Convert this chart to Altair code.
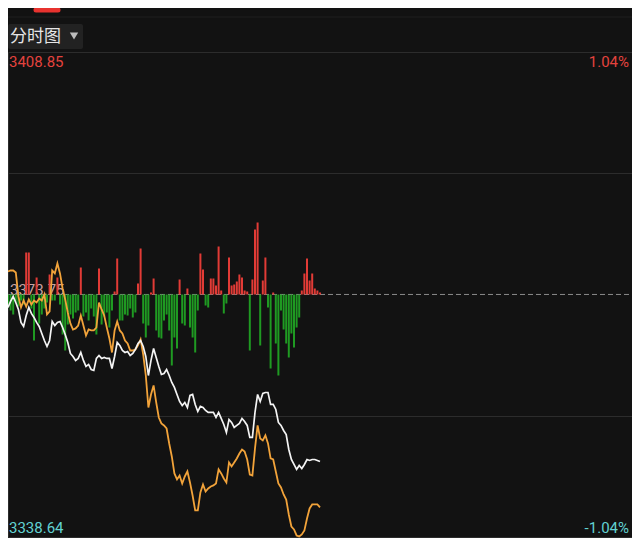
import altair as alt
import pandas as pd

# ---------------- data ----------------
minutes = list(range(121))  # 09:30 .. 11:30, one point per minute (x domain = 240 min trading day)

index_price = [
    3371.87, 3372.74, 3373.46, 3372.59, 3371.58, 3369.70, 3369.12, 3370.71, 3371.87, 3371.00,
    3370.42, 3369.70, 3369.12, 3368.10, 3367.09, 3366.22, 3367.09, 3369.84, 3369.26, 3369.70,
    3369.84, 3368.97, 3367.96, 3366.80, 3365.21, 3364.77, 3364.20, 3364.49, 3365.35, 3364.20,
    3363.33, 3363.62, 3362.89, 3362.75, 3364.49, 3364.92, 3364.49, 3364.63, 3364.49, 3364.49,
    3363.04, 3364.77, 3366.80, 3366.37, 3365.64, 3365.35, 3365.50, 3364.92, 3365.21, 3365.79,
    3366.66, 3367.09, 3366.22, 3364.77, 3362.02, 3364.20, 3365.93, 3364.63, 3363.33, 3362.17,
    3362.31, 3362.89, 3362.02, 3361.01, 3360.29, 3359.27, 3358.26, 3357.68, 3358.12, 3357.39,
    3359.13, 3359.27, 3357.83, 3356.81, 3357.54, 3357.39, 3356.96, 3356.67, 3356.67, 3356.67,
    3355.94, 3356.67, 3355.80, 3354.93, 3353.77, 3355.65, 3355.22, 3354.50, 3354.79, 3355.08,
    3355.80, 3355.37, 3354.79, 3353.05, 3353.05, 3356.67, 3359.27, 3358.26, 3359.42, 3359.56,
    3359.56, 3357.83, 3357.83, 3357.10, 3355.22, 3354.79, 3354.06, 3353.48, 3351.31, 3349.86,
    3349.14, 3348.42, 3349.00, 3348.56, 3349.14, 3349.86, 3349.72, 3349.86, 3349.86, 3349.72,
    3349.57,
]

second_price = [
    3377.08, 3377.22, 3377.22, 3376.93, 3373.46, 3371.87, 3372.88, 3372.01, 3373.03, 3372.30,
    3372.88, 3372.59, 3373.17, 3372.88, 3373.75, 3370.85, 3371.29, 3377.22, 3376.79, 3378.24,
    3376.79, 3374.62, 3373.03, 3371.14, 3369.55, 3368.68, 3368.83, 3369.26, 3370.71, 3369.26,
    3367.81, 3368.68, 3368.54, 3368.54, 3368.97, 3372.59, 3371.58, 3370.71, 3368.97, 3367.38,
    3365.35, 3368.54, 3369.84, 3368.54, 3368.10, 3367.09, 3366.66, 3365.64, 3365.64, 3365.79,
    3366.37, 3367.24, 3365.06, 3362.02, 3357.39, 3359.27, 3360.58, 3358.12, 3355.94, 3355.08,
    3354.79, 3354.35, 3352.18, 3350.30, 3347.84, 3346.97, 3347.55, 3346.39, 3347.40, 3348.13,
    3346.53, 3344.65, 3342.48, 3342.48, 3345.09, 3346.25, 3345.23, 3345.67, 3345.96, 3346.10,
    3346.39, 3348.42, 3347.84, 3347.11, 3346.53, 3349.43, 3348.85, 3349.43, 3350.01, 3350.73,
    3351.31, 3351.02, 3349.86, 3347.69, 3347.55, 3351.46, 3354.79, 3352.90, 3352.61, 3353.34,
    3352.18, 3350.01, 3349.86, 3348.13, 3346.39, 3345.81, 3344.80, 3344.07, 3341.90, 3340.16,
    3339.73, 3338.86, 3338.72, 3339.01, 3339.59, 3341.32, 3342.77, 3343.35, 3343.35, 3343.35,
    3342.92,
]

bar_values = [
    -10, -16, -20, -8, -12, -6, -10, 42, 42, -14,
    -46, 17, -29, -20, -14, -8, 20, -6, -6, 17,
    -10, -40, -56, -30, -20, -24, -18, -16, 27, -22,
    -18, -26, -14, -22, -40, 26, -30, -22, -18, -33,
    -16, 3, 36, -26, -26, -20, -21, -14, -23, -18,
    11, 46, -29, -43, -31, 2, 16, -36, -43, -44,
    -26, -20, -36, -71, -43, -54, 15, -29, -31, 6,
    -33, -43, -58, -16, 41, 25, -11, -13, 16, 16,
    9, 48, 4, -19, -9, 37, 9, 10, 13, 20,
    17, 4, 3, -56, 15, 65, 72, -51, 14, 37,
    -13, -74, 2, -49, -81, -16, -35, -49, -63, -39,
    -53, -33, -23, 4, 21, 36, 14, 21, 6, 4,
    2,
]

PREV_CLOSE = 3373.75
Y_MIN, Y_MAX = 3338.64, 3408.85
grid_prices = [3356.19, 3391.30]
left_labels = ["3408.85", "3373.75", "3338.64"]
right_labels = ["1.04%", "-1.04%"]

# ---------------- styling ----------------
BG = "#121212"
GRID = "#2c2c2c"
RED = "#e23b36"
GREEN = "#1f9a22"
LABEL_RED = "#e4433e"
LABEL_CYAN = "#62d2d2"
W, H = 624, 485
FONT = "Roboto"

df = pd.DataFrame({"minute": minutes, "index": index_price,
                   "second": second_price, "bar": bar_values})

x_scale = alt.Scale(domain=[0, 240], nice=False, zero=False)
y_scale = alt.Scale(domain=[Y_MIN, Y_MAX], nice=False, zero=False)


def price_y(field):
    return alt.Y(field, scale=y_scale, axis=None)


base = alt.Chart(df)

# grid (axes only)
grid = base.mark_line(opacity=0).encode(
    x=alt.X("minute:Q", scale=x_scale,
            axis=alt.Axis(values=[0, 60, 120, 180, 240], grid=True, gridColor=GRID,
                          labels=False, ticks=False, domain=False, title=None)),
    y=alt.Y("index:Q", scale=y_scale,
            axis=alt.Axis(values=grid_prices, grid=True, gridColor=GRID,
                          labels=False, ticks=False, domain=False, title=None)),
)

mid_df = pd.DataFrame({"p": [PREV_CLOSE], "t": [left_labels[1]]})
midline = alt.Chart(mid_df).mark_rule(color="#8a8a8a", strokeDash=[5, 3], strokeWidth=1).encode(
    y=price_y("p:Q"), x=alt.value(0), x2=alt.value(W)
)
mid_label = alt.Chart(mid_df).mark_text(
    align="left", baseline="alphabetic", dx=2, dy=1, color="#c9a3a3",
    font=FONT, fontSize=15
).encode(x=alt.value(0), y=price_y("p:Q"), text="t:N")

bars = base.mark_rule(strokeWidth=2).encode(
    x=alt.X("minute:Q", scale=x_scale, axis=None),
    y=alt.Y("bar:Q", scale=alt.Scale(domain=[-242.5, 242.5], nice=False, zero=False), axis=None),
    y2=alt.datum(0),
    color=alt.condition(alt.datum.bar > 0, alt.value(RED), alt.value(GREEN)),
)

orange = base.mark_line(color="#f2a33a", strokeWidth=1.8).encode(
    x=alt.X("minute:Q", scale=x_scale, axis=None), y=price_y("second:Q")
)
white = base.mark_line(color="#f4f4f4", strokeWidth=1.7).encode(
    x=alt.X("minute:Q", scale=x_scale, axis=None), y=price_y("index:Q")
)

top_df = pd.DataFrame({"p": [Y_MAX], "l": [left_labels[0]], "r": [right_labels[0]]})
bot_df = pd.DataFrame({"p": [Y_MIN], "l": [left_labels[2]], "r": [right_labels[1]]})

top_left = alt.Chart(top_df).mark_text(align="left", baseline="top", dx=1, dy=3,
                                        color=LABEL_RED, font=FONT, fontSize=15).encode(
    x=alt.value(0), y=price_y("p:Q"), text="l:N")
top_right = alt.Chart(top_df).mark_text(align="right", baseline="top", dx=-3, dy=3,
                                         color=LABEL_RED, font=FONT, fontSize=15).encode(
    x=alt.value(W), y=price_y("p:Q"), text="r:N")
bot_left = alt.Chart(bot_df).mark_text(align="left", baseline="bottom", dx=1, dy=-1,
                                        color=LABEL_CYAN, font=FONT, fontSize=15).encode(
    x=alt.value(0), y=price_y("p:Q"), text="l:N")
bot_right = alt.Chart(bot_df).mark_text(align="right", baseline="bottom", dx=-3, dy=-1,
                                         color=LABEL_CYAN, font=FONT, fontSize=15).encode(
    x=alt.value(W), y=price_y("p:Q"), text="r:N")

# header
hdr = alt.Chart(pd.DataFrame({"t": ["分时图"]}))
separator = hdr.mark_rule(color="#1f1f1f", strokeWidth=1).encode(
    x=alt.value(0), x2=alt.value(W), y=alt.value(-35))
pill = hdr.mark_rule(color="#e8332f", strokeWidth=5, strokeCap="round").encode(
    x=alt.value(28), x2=alt.value(50), y=alt.value(-42))
button = hdr.mark_rect(color="#222222", cornerRadius=2).encode(
    x=alt.value(0), x2=alt.value(75), y=alt.value(-28), y2=alt.value(-3))
button_text = hdr.mark_text(align="left", baseline="middle", color="#e6e6e6",
                            font="Noto Sans CJK SC", fontSize=17).encode(
    x=alt.value(2), y=alt.value(-15), text="t:N")
caret = hdr.mark_point(shape="triangle-down", filled=True, size=70, color="#bdbdbd", opacity=1).encode(
    x=alt.value(66), y=alt.value(-16))

chart = alt.layer(
    grid, midline, mid_label, bars, orange, white,
    top_left, top_right, bot_left, bot_right,
    separator, pill, button, button_text, caret,
).resolve_scale(y="independent").properties(
    width=W, height=H,
    padding={"left": 0, "top": 44, "right": 0, "bottom": 1},
    autosize=alt.AutoSizeParams(type="none"),
    background=BG,
).configure_view(stroke=GRID, strokeWidth=1)

chart.save("out.html", embed_options={"renderer": "svg", "actions": False})
